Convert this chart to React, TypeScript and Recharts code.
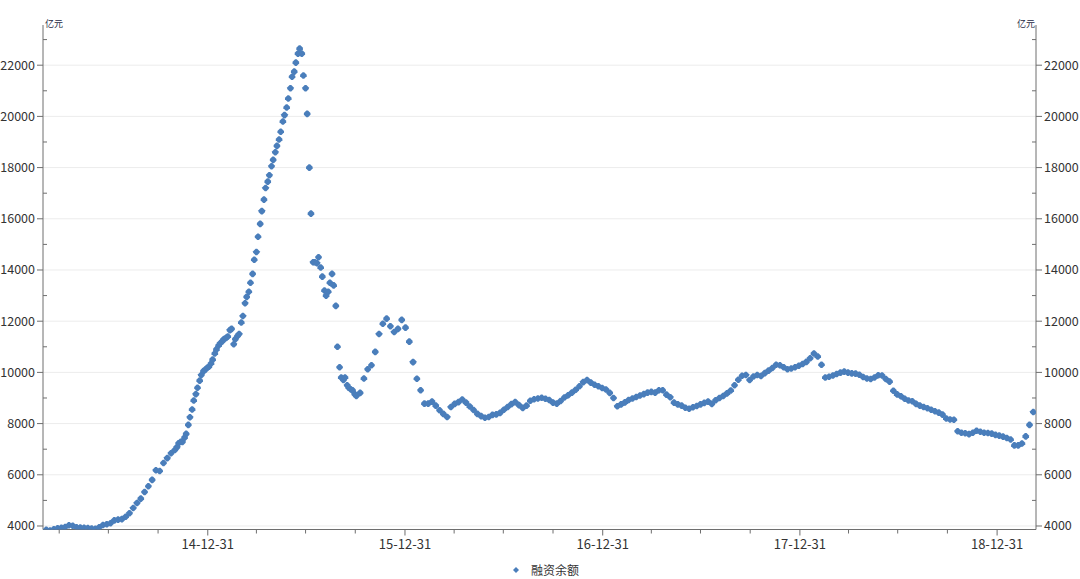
import { ScatterChart, Scatter, XAxis, YAxis, CartesianGrid } from "recharts"

// weekly (Friday) margin-financing balance, 亿元
const firstWeek = "2014-03-07"
const balance = [
    3850, 3820, 3870, 3910, 3930, 3960, 4030, 4010, 3950, 3940,
    3930, 3920, 3900, 3890, 3950, 4040, 4070, 4110, 4220, 4250,
    4270, 4360, 4500, 4700, 4900, 5070, 5330, 5550, 5800, 6180,
    6150, 6460, 6650, 6840, 6970, 7230, 7280, 7600, 8250, 8900,
    9400, 9900, 10100, 10220, 10500, 10900, 11140, 11300, 11400, 11700,
    11300, 11500, 12200, 12950, 13500, 14400, 15300, 16300, 17200, 17700,
    18300, 18850, 19400, 20050, 20700, 21550, 22100, 22650, 21600, 20100,
    16200, 14300, 14500, 13740, 13000, 13500, 13400, 11000, 9800, 9800,
    9400, 9300, 9080, 9200, 9760, 10120, 10280, 10800, 11500, 11900,
    12100, 11800, 11580, 11700, 12050, 11750, 11200, 10400, 9750, 9300,
    8780, 8780, 8860, 8700, 8520, 8380, 8260, 8650, 8770, 8840,
    8940, 8820, 8670, 8530, 8380, 8290, 8230, 8260, 8340, 8360,
    8420, 8540, 8650, 8760, 8840, 8720, 8610, 8700, 8890, 8950,
    8980, 9010, 8970, 8920, 8820, 8780, 8880, 9020, 9110, 9210,
    9320, 9460, 9620, 9700, 9600, 9520, 9460, 9390, 9330, 9200,
    9000, 8680, 8750, 8830, 8920, 8980, 9040, 9100, 9150, 9210,
    9240, 9210, 9300, 9300, 9130, 9030, 8820, 8750, 8700, 8620,
    8580, 8640, 8690, 8750, 8810, 8860, 8770, 8910, 9000, 9080,
    9180, 9290, 9500, 9710, 9870, 9900, 9700, 9840, 9900, 9860,
    9970, 10070, 10170, 10300, 10280, 10200, 10120, 10150, 10200, 10260,
    10330, 10410, 10550, 10740, 10620, 10300, 9800, 9830, 9880, 9940,
    9990, 10030, 9990, 9960, 9950, 9910, 9820, 9760, 9740, 9800,
    9890, 9880, 9740, 9640, 9280, 9140, 9070, 8970, 8900, 8870,
    8770, 8700, 8650, 8600, 8540, 8480, 8430, 8350, 8200, 8160,
    8150, 7700, 7640, 7620, 7590, 7640, 7720, 7680, 7640, 7630,
    7610, 7560, 7530, 7490, 7440, 7380, 7150, 7150, 7220, 7500,
    7950, 8450,
]

// extra mid-week (Tuesday) readings through the 2014-15 boom and crash
const firstTuesday = "2014-11-04"
const midweekBalance = [
    7080, 7290, 7450, 7950, 8550, 9150, 9680, 10050, 10180, 10350,
    10740, 11050, 11220, 11350, 11650, 11100, 11420, 11950, 12700, 13150,
    13850, 14700, 15800, 16750, 17450, 18050, 18600, 19100, 19800, 20350,
    21100, 21750, 22450, 22450, 21100, 18000, 14300, 14270, 14100, 13200,
    13150, 13850, 12600, 10200, 9700, 9500, 9330, 9150,
]

const quarterEnds = [
    "2014-03-31", "2014-06-30", "2014-09-30", "2014-12-31",
    "2015-03-31", "2015-06-30", "2015-09-30", "2015-12-31",
    "2016-03-31", "2016-06-30", "2016-09-30", "2016-12-31",
    "2017-03-31", "2017-06-30", "2017-09-30", "2017-12-31",
    "2018-03-31", "2018-06-30", "2018-09-30", "2018-12-31",
]

const yTicks = [
    4000, 5000, 6000, 7000, 8000, 9000, 10000, 11000, 12000, 13000,
    14000, 15000, 16000, 17000, 18000, 19000, 20000, 21000, 22000, 23000,
]
const gridValues = yTicks.filter(v => v % 2000 === 0)

const WEEK = 7 * 86400000
const weekly = balance.map((value, i) => ({ t: Date.parse(firstWeek) + i * WEEK, value }))
const midweek = midweekBalance.map((value, i) => ({ t: Date.parse(firstTuesday) + i * WEEK, value }))
const data = [...weekly, ...midweek].sort((a, b) => a.t - b.t)

const xTicks = quarterEnds.map(d => Date.parse(d))
const xDomain = [Date.parse("2014-03-01"), Date.parse("2019-03-13")]
const yDomain = [3863, 23570]

const axisColor = "#6e6e6e"
const textColor = "#333"
const font = "'Noto Sans CJK SC', 'Noto Sans', sans-serif"
const blue = "#4a7ebb"

const fmtDate = (t: number) => {
    const d = new Date(t)
    const p = (n: number) => String(n).padStart(2, "0")
    return `${p(d.getUTCFullYear() % 100)}-${p(d.getUTCMonth() + 1)}-${p(d.getUTCDate())}`
}

const LeftTick = (props: any) => {
    const { x, y, payload } = props
    const major = payload.value % 2000 === 0
    return (
        <g>
            {major
                ? <line x1={x + 2} x2={x + 8} y1={y} y2={y} stroke={axisColor} />
                : <line x1={x + 8} x2={x + 12} y1={y} y2={y} stroke={axisColor} />}
            {major && (
                <text x={x} y={y} dy="0.35em" textAnchor="end" fill={textColor} fontSize={12.5} fontFamily={font}>
                    {payload.value}
                </text>
            )}
        </g>
    )
}

const RightTick = (props: any) => {
    const { x, y, payload } = props
    const major = payload.value % 2000 === 0
    return (
        <g>
            {major
                ? <line x1={x - 8} x2={x - 2} y1={y} y2={y} stroke={axisColor} />
                : <line x1={x - 12} x2={x - 8} y1={y} y2={y} stroke={axisColor} />}
            {major && (
                <text x={x} y={y} dy="0.35em" textAnchor="start" fill={textColor} fontSize={12.5} fontFamily={font}>
                    {payload.value}
                </text>
            )}
        </g>
    )
}

const DateTick = (props: any) => {
    const { x, y, payload } = props
    const major = new Date(payload.value).getUTCMonth() === 11
    return (
        <g>
            <line x1={x} x2={x} y1={y - 10} y2={y - (major ? 4 : 6)} stroke={axisColor} />
            {major && (
                <text x={x} y={y} dy="0.71em" textAnchor="middle" fill={textColor} fontSize={13} fontFamily={font}>
                    {fmtDate(payload.value)}
                </text>
            )}
        </g>
    )
}

// diamond with blunted tips, like the anti-aliased markers of the original
const Marker = (props: any) => {
    const { cx, cy } = props
    const a = 3.3
    const b = 0.8
    const pts = [
        [cx - b, cy - a], [cx + b, cy - a], [cx + a, cy - b], [cx + a, cy + b],
        [cx + b, cy + a], [cx - b, cy + a], [cx - a, cy + b], [cx - a, cy - b],
    ]
    return <polygon points={pts.map(p => p.join(",")).join(" ")} fill={blue} />
}

export default function App() {
    return (
        <div style={{ position: "absolute", left: 0, top: 0, width: 1080, height: 579, background: "#fff" }}>
            <ScatterChart width={1080} height={579} margin={{ top: 25, right: 0, bottom: 19.5, left: 0 }}>
                <CartesianGrid vertical={false} horizontalValues={gridValues} stroke="#ececec" />
                <XAxis
                    dataKey="t"
                    type="number"
                    domain={xDomain}
                    ticks={xTicks}
                    interval={0}
                    height={30}
                    tickSize={6}
                    tickMargin={4}
                    tickLine={false}
                    stroke={axisColor}
                    tick={<DateTick />}
                    allowDataOverflow
                />
                <YAxis
                    dataKey="value"
                    type="number"
                    domain={yDomain}
                    ticks={yTicks}
                    interval={0}
                    width={43}
                    tickSize={6}
                    tickMargin={2}
                    tickLine={false}
                    stroke={axisColor}
                    tick={<LeftTick />}
                    allowDataOverflow
                />
                <YAxis
                    yAxisId="right"
                    orientation="right"
                    type="number"
                    domain={yDomain}
                    ticks={yTicks}
                    interval={0}
                    width={44}
                    tickSize={6}
                    tickMargin={2}
                    tickLine={false}
                    stroke={axisColor}
                    tick={<RightTick />}
                    allowDataOverflow
                />
                <Scatter name="融资余额" data={data} shape={<Marker />} isAnimationActive={false} />
            </ScatterChart>
            <span style={{ position: "absolute", left: 45, top: 17, fontSize: 9, color: "#1f2a44", fontFamily: font }}>亿元</span>
            <span style={{ position: "absolute", right: 45, top: 17, fontSize: 9, color: "#1f2a44", fontFamily: font }}>亿元</span>
            <div style={{ position: "absolute", left: 512, top: 561, display: "flex", alignItems: "center", fontFamily: font, fontSize: 12, color: textColor }}>
                <svg width={8} height={8} style={{ marginRight: 11 }}>
                    <polygon points="4,1 7,4 4,7 1,4" fill={blue} />
                </svg>
                <span>融资余额</span>
            </div>
        </div>
    )
}
